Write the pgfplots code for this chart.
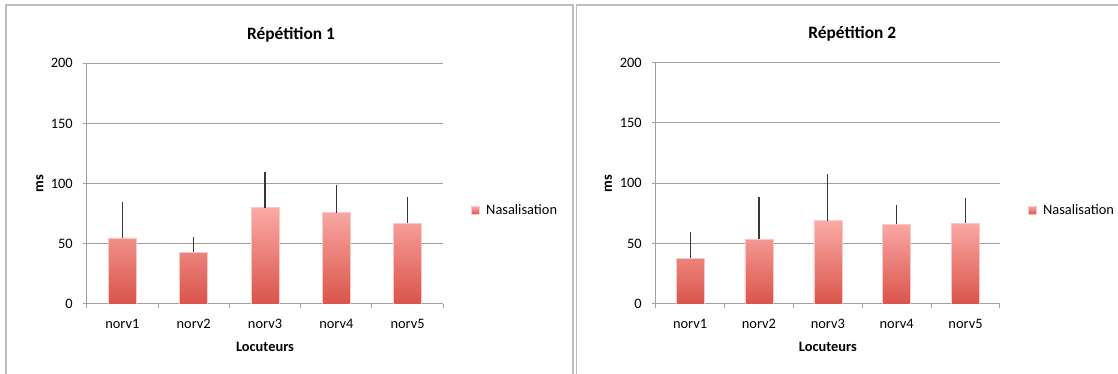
\documentclass[border=0pt]{standalone}
\usepackage{pgfplots}
\pgfplotsset{compat=1.18}
\usepackage{fontspec}
\setmainfont{Carlito}
\definecolor{bartop}{RGB}{251,170,166}
\definecolor{barbot}{RGB}{217,84,74}
\definecolor{baredge}{RGB}{252,200,197}
\definecolor{gridc}{RGB}{160,160,160}
\definecolor{framec}{RGB}{190,190,190}
\definecolor{errc}{RGB}{55,55,55}

\pgfplotsset{
  rep/.style={
    scale only axis, anchor=south west,
    /pgf/number format/assume math mode=true,
    xmin=0.5,xmax=5.5,ymin=0,ymax=200,
    ytick={0,50,...,200},
    xtick={0.5,1.5,...,5.5}, xticklabels={},
    extra x ticks={1,2,3,4,5},
    extra x tick labels={norv1,norv2,norv3,norv4,norv5},
    extra x tick style={major tick length=0pt, grid=none, xticklabel style={yshift=-8bp}},
    axis lines*=left,
    axis line style={gridc, line width=0.75bp},
    ymajorgrids, grid style={gridc, line width=0.75bp},
    tick align=outside, major tick length=3bp,
    tick style={gridc, line width=0.75bp},
    tick label style={font=\fontsize{10.8bp}{12bp}\selectfont, text=black},
    yticklabel style={xshift=-4bp},
    xlabel={Locuteurs}, ylabel={ms},
    label style={font=\fontsize{10.8bp}{12bp}\selectfont\bfseries},
    xlabel style={at={(axis description cs:0.5,0)}, anchor=center, yshift=-32bp},
    title style={font=\fontsize{13bp}{15bp}\selectfont\bfseries, anchor=center, yshift=15.5bp},
    legend style={draw=none, fill=none, anchor=west, font=\fontsize{10.8bp}{12bp}\selectfont, inner sep=0pt, outer sep=0pt},
    legend image code/.code={\fill[top color=bartop,bottom color=barbot] (0bp,-2.9bp) rectangle (5.8bp,2.9bp); \path (9bp,0bp);},
    error bars/y dir=plus, error bars/y explicit, error bars/error mark=none,
    error bars/error bar style={errc, line width=0.8bp, shade=false, fill=none},
  },
  barstyle/.style={ybar, bar width=21bp, draw=baredge, line width=0.4bp, top color=bartop, bottom color=barbot},
}

\begin{document}
\begin{tikzpicture}
\useasboundingbox (0bp,0bp) rectangle (838.5bp,280.5bp);

\begin{axis}[rep,
  at={(65.03bp,52.5bp)},
  width=267.45bp, height=180.5bp,
  title={Répétition 1},
  title style={at={(axis description cs:0.573,1)}},
  ylabel style={at={(axis description cs:-0.131,0.5)}, anchor=center},
  legend style={at={(axis description cs:1.0777,0.3885)}},
]
\addplot[barstyle] coordinates {
  (1,55) +- (0,30)
  (2,43) +- (0,13)
  (3,80) +- (0,30)
  (4,76) +- (0,23)
  (5,67) +- (0,22)
};
\addlegendentry{Nasalisation}
\end{axis}

\begin{axis}[rep,
  at={(491.78bp,52.5bp)},
  width=258.2bp, height=181bp,
  title={Répétition 2},
  title style={at={(axis description cs:0.571,1)}},
  ylabel style={at={(axis description cs:-0.1374,0.5)}, anchor=center},
  legend style={at={(axis description cs:1.081,0.3885)}},
]
\addplot[barstyle] coordinates {
  (1,38) +- (0,22)
  (2,54) +- (0,35)
  (3,69) +- (0,39)
  (4,66) +- (0,16)
  (5,67) +- (0,21)
};
\addlegendentry{Nasalisation}
\end{axis}

\draw[framec, line width=1.3bp] (4.5bp,-4bp) -- (4.5bp,276.75bp) -- (429.75bp,276.75bp) -- (429.75bp,-4bp);
\draw[framec, line width=1.3bp] (432.4bp,-4bp) -- (432.4bp,276.75bp) -- (845bp,276.75bp);
\end{tikzpicture}
\end{document}
